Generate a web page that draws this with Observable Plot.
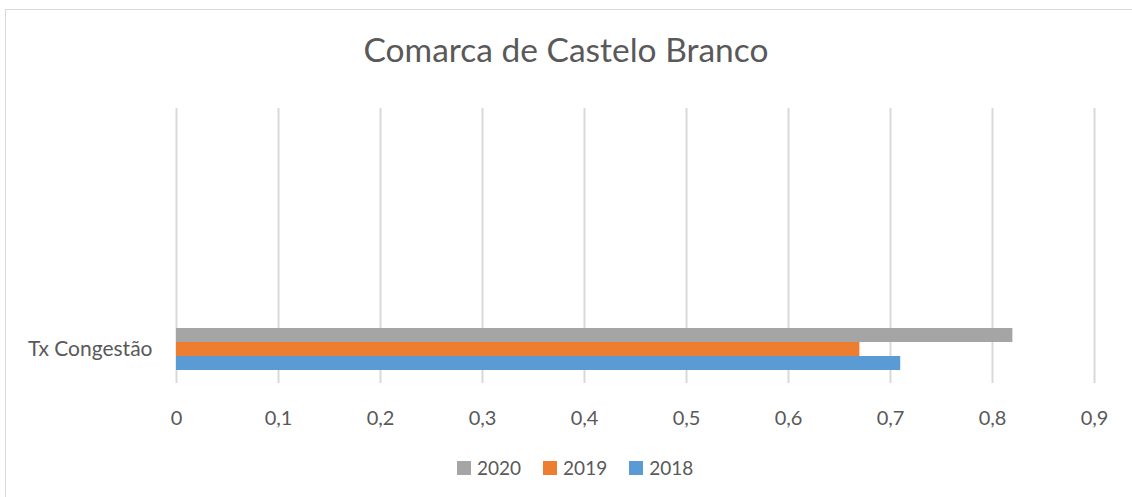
<!DOCTYPE html>
<html>
<head>
<meta charset="utf-8">
<script src="https://cdn.jsdelivr.net/npm/d3@7"></script>
<script src="https://cdn.jsdelivr.net/npm/@observablehq/plot@0.6"></script>
<style>
  html, body { margin: 0; padding: 0; background: #fff; }
  #wrap { position: relative; width: 1132px; height: 497px; overflow: hidden; font-family: Lato, "Open Sans", sans-serif; color: #595959; }
  #frame { position: absolute; left: 5px; top: 9px; width: 1200px; height: 600px; border-left: 1.5px solid #D9D9D9; border-top: 1.5px solid #D9D9D9; box-sizing: border-box; }
  #title { position: absolute; left: 0; top: 33px; width: 1132px; text-align: center; font-size: 33.5px; line-height: 33.5px; }
  #chart { position: absolute; left: 0; top: 0; }
  #legend { position: absolute; left: 457px; top: 458px; display: flex; align-items: center; font-size: 19px; line-height: 19px; }
  .item { display: flex; align-items: center; margin-right: 22px; }
  .sw { width: 14px; height: 14px; margin-right: 6px; }
</style>
</head>
<body>
<div id="wrap">
  <div id="frame"></div>
  <div id="title">Comarca de Castelo Branco</div>
  <div id="chart"></div>
  <div id="legend"></div>
</div>
<script>
const category = "Tx Congestão";
const years = ["2020", "2019", "2018"];
const values = [0.82, 0.67, 0.71];
const colors = ["#A5A5A5", "#ED7D31", "#5B9BD5"];
const xTicks = [0, 0.1, 0.2, 0.3, 0.4, 0.5, 0.6, 0.7, 0.8, 0.9];

const data = years.map((y, i) => ({category, year: y, value: values[i]}));
const fmt = d => String(+d.toFixed(1)).replace(".", ",");

const plot = Plot.plot({
  width: 1132,
  height: 497,
  marginLeft: 176,
  marginRight: 38,
  marginTop: 108,
  marginBottom: 114,
  style: {fontFamily: "Lato, 'Open Sans', sans-serif", fontSize: "19px", color: "#595959", background: "transparent", overflow: "visible"},
  x: {domain: [0, 0.9], label: null},
  y: {domain: years, range: [327, 371.5], padding: 0, axis: null},
  color: {domain: years, range: colors},
  marks: [
    Plot.ruleX(xTicks, {stroke: "#D9D9D9", strokeWidth: 2}),
    Plot.barX(data, {x: "value", y: "year", fill: "year"}),
    Plot.axisX(xTicks, {tickSize: 0, tickPadding: 27, tickFormat: fmt, fill: "#595959", fontSize: 20, label: null}),
    Plot.text([data[1]], {x: 0, y: "year", text: d => d.category, textAnchor: "end", dx: -24, fill: "#595959", fontSize: 21})
  ]
});
document.getElementById("chart").appendChild(plot);

const legend = document.getElementById("legend");
years.forEach((y, i) => {
  const it = document.createElement("div");
  it.className = "item";
  const sw = document.createElement("div");
  sw.className = "sw";
  sw.style.background = colors[i];
  const t = document.createElement("span");
  t.textContent = y;
  it.appendChild(sw);
  it.appendChild(t);
  legend.appendChild(it);
});
</script>
</body>
</html>
